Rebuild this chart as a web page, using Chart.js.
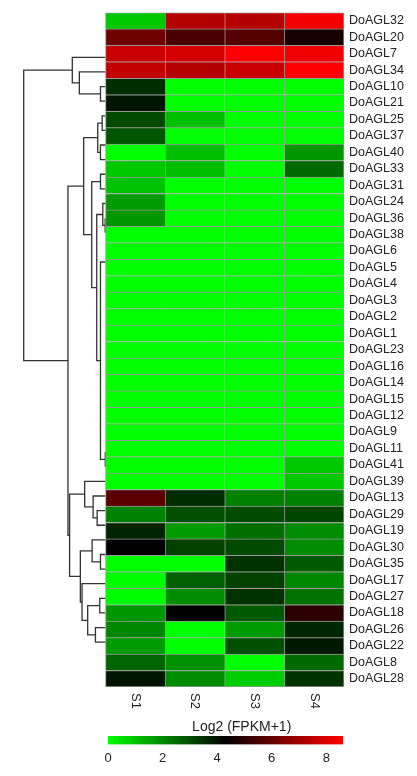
<!DOCTYPE html>
<html lang="en">
<head>
    <meta charset="UTF-8">
    <title>DoAGL heatmap</title>
    <script src="https://cdn.jsdelivr.net/npm/chart.js"></script>
    <style>
        * {
            margin: 0;
            padding: 0;
        }
        body {
            background: #fff;
            width: 417px;
            height: 776px;
            position: relative;
            overflow: hidden;
        }
        canvas {
            position: absolute;
            left: 0;
        }
    </style>
</head>
<body>
<canvas id="heatmap" width="417" height="715" style="top:0"></canvas>
<canvas id="colourbar" width="417" height="61" style="top:715px"></canvas>
<script>
    // rows, top to bottom
    var genes = ['DoAGL32', 'DoAGL20', 'DoAGL7', 'DoAGL34', 'DoAGL10', 'DoAGL21', 'DoAGL25', 'DoAGL37',
        'DoAGL40', 'DoAGL33', 'DoAGL31', 'DoAGL24', 'DoAGL36', 'DoAGL38', 'DoAGL6', 'DoAGL5', 'DoAGL4',
        'DoAGL3', 'DoAGL2', 'DoAGL1', 'DoAGL23', 'DoAGL16', 'DoAGL14', 'DoAGL15', 'DoAGL12', 'DoAGL9',
        'DoAGL11', 'DoAGL41', 'DoAGL39', 'DoAGL13', 'DoAGL29', 'DoAGL19', 'DoAGL30', 'DoAGL35', 'DoAGL17',
        'DoAGL27', 'DoAGL18', 'DoAGL26', 'DoAGL22', 'DoAGL8', 'DoAGL28'];
    var samples = ['S1', 'S2', 'S3', 'S4'];

    // Log2 (FPKM+1), same order as genes
    var s1 = [0.93, 6.15, 7.67, 7.59, 3.54, 3.96, 3.04, 2.87, 0, 0.93, 1.01, 1.69, 1.77,
        0, 0, 0, 0, 0, 0, 0, 0, 0, 0, 0, 0, 0, 0, 0, 0,
        5.82, 2.11, 3.71, 4.3, 0, 0.03, 0.03, 1.77, 2.02, 1.69, 2.61, 3.96];
    var s2 = [7.34, 5.56, 7.84, 7.34, 0, 0, 1.1, 0, 1.1, 1.1, 0, 0, 0,
        0, 0, 0, 0, 0, 0, 0, 0, 0, 0, 0, 0, 0, 0, 0, 0,
        3.54, 2.95, 1.69, 3.2, 0, 2.7, 1.94, 4.3, 0, 0, 1.85, 1.94];
    var s3 = [7.34, 5.73, 8.6, 7.67, 0, 0, 0, 0, 0, 0, 0, 0, 0,
        0, 0, 0, 0, 0, 0, 0, 0, 0, 0, 0, 0, 0, 0, 0, 0,
        2.11, 3.04, 2.45, 3.04, 3.46, 3.2, 3.46, 2.78, 1.69, 2.95, 0, 0.85];
    var s4 = [8.43, 4.72, 8.35, 8.6, 0, 0, 0, 0, 1.77, 2.53, 0, 0, 0,
        0, 0, 0, 0, 0, 0, 0, 0, 0, 0, 0, 0, 0, 0, 0.93, 0.93,
        2.11, 3.12, 1.94, 1.94, 2.78, 2.02, 2.36, 5.06, 3.63, 3.88, 2.53, 3.46];
    var values = [s1, s2, s3, s4];

    // row clustering: [child a, child b, height]; a gene name is a leaf, a number is an earlier merge
    var merges = [
        ['DoAGL7', 'DoAGL34', 0.5],     // 0
        ['DoAGL20', 0, 2.6],            // 1
        ['DoAGL32', 1, 3.3],            // 2
        ['DoAGL10', 'DoAGL21', 0.33],   // 3
        ['DoAGL25', 'DoAGL37', 0.5],    // 4
        [3, 4, 0.77],                   // 5
        ['DoAGL40', 'DoAGL33', 0.5],    // 6
        ['DoAGL24', 'DoAGL36', 0.05],   // 7
        ['DoAGL31', 7, 0.27],           // 8
        ['DoAGL9', 'DoAGL11', 0],       // 9
        ['DoAGL12', 9, 0],              // 10
        ['DoAGL15', 10, 0],             // 11
        ['DoAGL14', 11, 0],             // 12
        ['DoAGL16', 12, 0],             // 13
        ['DoAGL23', 13, 0],             // 14
        ['DoAGL1', 14, 0],              // 15
        ['DoAGL2', 15, 0],              // 16
        ['DoAGL3', 16, 0],              // 17
        ['DoAGL4', 17, 0],              // 18
        ['DoAGL5', 18, 0],              // 19
        ['DoAGL6', 19, 0],              // 20
        ['DoAGL38', 20, 0],             // 21
        ['DoAGL41', 'DoAGL39', 0.03],   // 22
        [21, 22, 0.5],                  // 23
        [8, 23, 0.87],                  // 24
        [6, 24, 1.37],                  // 25
        [5, 25, 2.17],                  // 26
        ['DoAGL19', 'DoAGL30', 0.83],   // 27
        ['DoAGL29', 27, 1.23],          // 28
        ['DoAGL13', 28, 2.07],          // 29
        ['DoAGL17', 'DoAGL27', 0.5],    // 30
        ['DoAGL35', 30, 1.33],          // 31
        ['DoAGL26', 'DoAGL22', 0.57],   // 32
        ['DoAGL8', 'DoAGL28', 1.0],     // 33
        [32, 33, 1.77],                 // 34
        ['DoAGL18', 34, 2.33],          // 35
        [31, 35, 2.5],                  // 36
        [29, 36, 3.57],                 // 37
        [26, 37, 3.73],                 // 38
        [2, 38, 8.13]                   // 39
    ];

    // colour key
    var colourMin = 0, colourMid = 4.3, colourMax = 8.6;
    var colourTicks = [0, 2, 4, 6, 8];
    var keyTitle = 'Log2 (FPKM+1)';

    Chart.defaults.font.family = "'Liberation Sans', Arial, sans-serif";
    Chart.defaults.color = '#222';

    function colourFor(v) {
        if (v <= colourMid) {
            var g = Math.round(255 * (1 - (v - colourMin) / (colourMid - colourMin)));
            return 'rgb(0,' + g + ',0)';
        }
        var r = Math.round(255 * Math.min(1, (v - colourMid) / (colourMax - colourMid)));
        return 'rgb(' + r + ',0,0)';
    }

    // tree is drawn left of the heatmap, in column widths
    var DENDRO_W = 1.372;
    var rootH = merges[merges.length - 1][2];
    var k = DENDRO_W / rootH;

    var nodes = [];
    function nodeOf(ref) {
        if (typeof ref === 'string') return {y: genes.indexOf(ref), h: 0};
        return nodes[ref];
    }
    var treeSets = [];
    for (var m = 0; m < merges.length; m++) {
        var a = nodeOf(merges[m][0]), b = nodeOf(merges[m][1]), h = merges[m][2];
        nodes[m] = {y: (a.y + b.y) / 2, h: h};
        if (h === 0) continue;
        treeSets.push({
            type: 'line',
            indexAxis: 'x',
            xAxisID: 'x',
            yAxisID: 'yd',
            data: [
                {x: -a.h * k, y: a.y},
                {x: -h * k, y: a.y},
                {x: -h * k, y: b.y},
                {x: -b.h * k, y: b.y}
            ],
            borderColor: '#333',
            borderWidth: 1.3,
            pointRadius: 0,
            fill: false,
            tension: 0,
            clip: false,
            order: 1
        });
    }

    var cellSets = samples.map(function (s, j) {
        return {
            label: s,
            data: genes.map(function () { return [j, j + 1]; }),
            backgroundColor: values[j].map(colourFor),
            borderColor: '#999',
            borderWidth: function (ctx) {
                return {
                    top: 1, left: 1,
                    right: j === samples.length - 1 ? 1 : 0,
                    bottom: ctx.dataIndex === genes.length - 1 ? 1 : 0
                };
            },
            borderSkipped: false,
            barPercentage: 1,
            categoryPercentage: 1,
            grouped: false,
            order: 0
        };
    });

    var colLabels = {
        id: 'colLabels',
        afterDraw: function (chart) {
            var c = chart.ctx, xs = chart.scales.x, bottom = chart.chartArea.bottom;
            c.save();
            c.font = "13px 'Liberation Sans', Arial, sans-serif";
            c.fillStyle = '#222';
            c.textAlign = 'left';
            c.textBaseline = 'middle';
            samples.forEach(function (s, j) {
                c.save();
                c.translate(xs.getPixelForValue(j + 0.5), bottom + 6);
                c.rotate(Math.PI / 2);
                c.fillText(s, 0, 0);
                c.restore();
            });
            c.restore();
        }
    };

    new Chart(document.getElementById('heatmap').getContext('2d'), {
        type: 'bar',
        data: {
            labels: genes,
            datasets: cellSets.concat(treeSets)
        },
        options: {
            indexAxis: 'y',
            responsive: false,
            animation: false,
            layout: {padding: {left: 23.7, top: 6.7, bottom: 28, right: 0}},
            plugins: {legend: {display: false}, tooltip: {enabled: false}},
            scales: {
                x: {type: 'linear', display: false, min: -DENDRO_W, max: samples.length},
                y: {
                    type: 'category',
                    position: 'right',
                    offset: true,
                    grid: {display: false, drawTicks: false},
                    border: {display: false},
                    ticks: {padding: 5, font: {size: 12.5}, color: '#222', autoSkip: false},
                    afterFit: function (scale) { scale.width = 73; }
                },
                yd: {
                    type: 'linear',
                    axis: 'y',
                    display: false,
                    reverse: true,
                    min: -0.5,
                    max: genes.length - 0.5
                }
            }
        },
        plugins: [colLabels]
    });

    new Chart(document.getElementById('colourbar').getContext('2d'), {
        type: 'bar',
        data: {
            labels: ['key'],
            datasets: [{
                data: [[colourMin, colourMax]],
                backgroundColor: function (ctx) {
                    var chart = ctx.chart;
                    if (!chart.chartArea) return '#000';
                    var xs = chart.scales.x;
                    var g = chart.ctx.createLinearGradient(xs.getPixelForValue(colourMin), 0, xs.getPixelForValue(colourMax), 0);
                    g.addColorStop(0, colourFor(colourMin));
                    g.addColorStop((colourMid - colourMin) / (colourMax - colourMin), colourFor(colourMid));
                    g.addColorStop(1, colourFor(colourMax));
                    return g;
                },
                borderWidth: 0,
                barPercentage: 1,
                categoryPercentage: 1
            }]
        },
        options: {
            indexAxis: 'y',
            responsive: false,
            animation: false,
            layout: {padding: {left: 108, right: 41.6, top: 0, bottom: 3}},
            plugins: {
                legend: {display: false},
                tooltip: {enabled: false},
                title: {
                    display: true,
                    text: keyTitle,
                    color: '#222',
                    font: {size: 14, weight: 'normal'},
                    padding: {top: 4, bottom: 0.2}
                }
            },
            scales: {
                x: {
                    type: 'linear',
                    min: 0,
                    max: 9.8, // extra room on the right so the title sits where it does in the figure
                    grid: {display: false, drawTicks: false},
                    border: {display: false},
                    ticks: {padding: 6.5, font: {size: 13}, color: '#222'},
                    afterBuildTicks: function (axis) {
                        axis.ticks = colourTicks.map(function (v) { return {value: v}; });
                    }
                },
                y: {type: 'category', display: false}
            }
        }
    });
</script>
</body>
</html>
